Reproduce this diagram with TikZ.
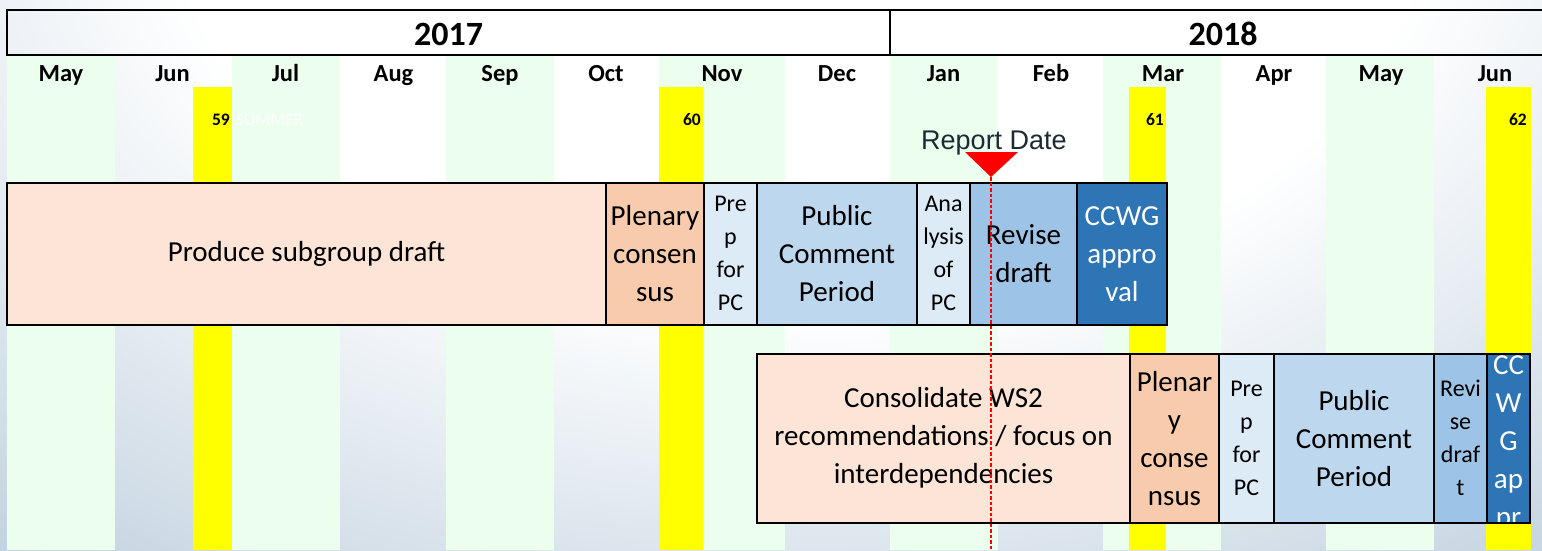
\documentclass[tikz,border=0pt]{standalone}
\usepackage{fontspec}
\setmainfont{Carlito}
\newfontfamily\arialfont{Liberation Sans}
\definecolor{bgout}{RGB}{193,209,223}
\definecolor{grn}{RGB}{236,254,237}
\definecolor{peach}{HTML}{FCE4D6}
\definecolor{plen}{HTML}{F8CBAD}
\definecolor{lblue}{HTML}{DDEBF7}
\definecolor{mblue}{HTML}{BDD7EE}
\definecolor{rblue}{HTML}{9DC3E6}
\definecolor{dblue}{HTML}{2E75B6}
\definecolor{rdcol}{HTML}{1B2A33}
\definecolor{yel}{HTML}{FFFF00}
\definecolor{rdred}{HTML}{FF0000}
\pgfdeclareradialshading{bgshade}{\pgfpoint{0bp}{0bp}}{color(0bp)=(white); color(12bp)=(white); color(25bp)=(bgout); color(50bp)=(bgout)}
\newcommand{\fbig}{\fontsize{29}{38}\selectfont}
\newcommand{\fsmall}{\fontsize{24}{33}\selectfont}
\newcommand{\gbox}[8]{\node[box, fill=#6, minimum width={(#3-#2)*1pt}, minimum height={(#5-#4)*1pt}, #7] (#1) at ({(#2+#3)/2},{(#4+#5)/2}) {#8};}
\begin{document}
\begin{tikzpicture}[x=1pt,y=-1pt,
  box/.style={draw=black, line width=2pt, inner sep=0pt, outer sep=0pt, align=center, text=black, font=\fbig},
  mon/.style={font=\fontsize{24.5}{29}\selectfont\bfseries, anchor=base, inner sep=0pt},
  yr/.style={font=\fontsize{34}{40}\selectfont\bfseries, anchor=base, inner sep=0pt},
  num/.style={font=\fontsize{17.5}{21}\selectfont\bfseries, anchor=base east, inner sep=0pt}]
\useasboundingbox (0,0) rectangle (1542,550);
% background
\begin{scope}
\clip (0,0) rectangle (1542,550);
\shade[shading=bgshade] (800,-100) ellipse [x radius=1300pt, y radius=850pt];
\end{scope}
% green month columns
\foreach \a/\b in {7/115, 232/340, 446/554, 659/785, 890/998, 1103/1221, 1326/1434}
  \fill[grn] (\a,55) rectangle (\b,550);
% yellow meeting bars
\foreach \a/\b in {193/232, 659/703, 1129/1166, 1486/1531}
  \fill[yel] (\a,87) rectangle (\b,550);
% header
\draw[line width=2.4pt] (1560,10) -- (7,10) -- (7,55) -- (1560,55);
\draw[line width=2.4pt] (890,10) -- (890,55);
\node[yr] (y17) at (448.5,45) {2017};
\node[yr] (y18) at (1223,45) {2018};
\foreach \x/\m/\n in {61/May/m1, 172.5/Jun/m2, 285.5/Jul/m3, 393.5/Aug/m4, 500/Sep/m5, 606/Oct/m6, 722/Nov/m7, 837/Dec/m8, 943.5/Jan/m9, 1051/Feb/m10, 1163/Mar/m11, 1274/Apr/m12, 1381/May/m13, 1495/Jun/m14}
  \node[mon] (\n) at (\x,81.7) {\m};
% meeting numbers
\node[num] (n59) at (230,125) {59};
\node[font=\fontsize{17.5}{21}\selectfont, text=white, anchor=base west, inner sep=0pt] (summer) at (236,125) {SUMMER};
\node[num] (n60) at (701,125) {60};
\node[num] (n61) at (1164,125) {61};
\node[num] (n62) at (1527,125) {62};
% report date
\node[font=\arialfont\fontsize{27}{32}\selectfont, text=rdcol, anchor=base, inner sep=0pt] (rd) at (994,149) {Report Date};
\fill[rdred] (965,152) -- (1018,152) -- (991,177) -- cycle;
\coordinate (tip) at (991,177);
\coordinate (lineend) at (991,550);
% top row
\gbox{a1}{7}{606}{182.5}{325}{peach}{}{Produce subgroup draft}
\gbox{a2}{606}{704}{182.5}{325}{plen}{}{Plenary\\consen\\sus}
\gbox{a3}{704}{757}{182.5}{325}{lblue}{font=\fsmall}{Pre\\p\\for\\PC}
\gbox{a4}{757}{917}{182.5}{325}{mblue}{}{Public\\Comment\\Period}
\gbox{a5}{917}{970}{182.5}{325}{lblue}{font=\fsmall}{Ana\\lysis\\of\\PC}
\gbox{a6}{970}{1077}{182.5}{325}{rblue}{}{Revise\\draft}
\gbox{a7}{1077}{1167}{182.5}{325}{dblue}{text=white}{CCWG\\appro\\val}
% bottom row
\gbox{b1}{757}{1130}{354}{522.5}{peach}{}{Consolidate WS2\\recommendations / focus on\\interdependencies}
\gbox{b2}{1130}{1219}{354}{522.5}{plen}{}{Plenar\\y\\conse\\nsus}
\gbox{b3}{1219}{1274}{354}{522.5}{lblue}{font=\fsmall}{Pre\\p\\for\\PC}
\gbox{b4}{1274}{1434}{354}{522.5}{mblue}{}{Public\\Comment\\Period}
\gbox{b5}{1434}{1487}{354}{522.5}{rblue}{font=\fsmall}{Revi\\se\\draf\\t}
\gbox{b6}{1487}{1530}{354}{522.5}{dblue}{}{}
\begin{scope}
\clip (b6.south west) rectangle (b6.north east);
\node[font=\fbig, text=white, align=center, anchor=north, inner sep=0pt] (b6t) at (1508.5,355.5) {CC\\W\\G\\ap\\pr};
\end{scope}
\draw[line width=2pt] (b6.south west) rectangle (b6.north east);
% report date line
\draw[draw=rdred, line width=1.3pt, dash pattern=on 3.5pt off 2pt] (tip) -- (lineend);
\end{tikzpicture}
\end{document}
